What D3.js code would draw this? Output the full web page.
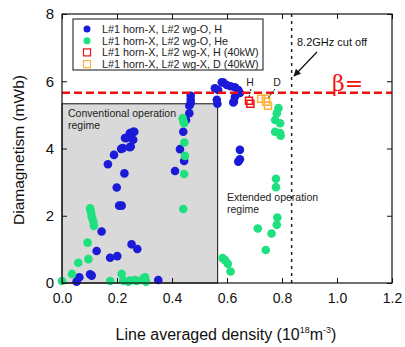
<!DOCTYPE html>
<html>
<head>
<meta charset="utf-8">
<title>Diamagnetism</title>
<script src="https://cdn.jsdelivr.net/npm/d3@7"></script>
<style>
  body { margin: 0; background: #fff; }
  svg { font-family: "Liberation Sans", Arial, sans-serif; }
  .tick text { font-size: 14px; }
  .small { font-size: 10.5px; fill: #222; }
</style>
</head>
<body>
<div id="chart"></div>
<script>
// blue: L#2 wg-O, H  [density, diamagnetism]
var blueH = [
  [0.053,0.04],[0.063,0.17],[0.102,0.26],[0.108,0.22],[0.126,0.95],[0.144,1.53],
  [0.175,0.75],[0.201,0.80],[0.167,3.53],[0.189,3.81],[0.199,2.84],[0.208,2.30],
  [0.217,2.30],[0.227,3.26],[0.215,3.99],[0.221,4.01],[0.229,4.31],[0.235,4.31],
  [0.241,4.35],[0.247,4.46],[0.253,4.46],[0.259,4.50],[0.263,4.50],[0.247,4.04],
  [0.250,4.06],[0.259,4.26],[0.253,1.15],[0.274,1.01],[0.350,0.09],[0.411,3.33],
  [0.429,3.98],[0.444,3.63],[0.441,4.50],[0.451,4.85],[0.463,5.05],[0.463,5.27],
  [0.468,5.35],[0.468,5.45],[0.468,5.57],[0.565,5.33],[0.556,5.79],[0.568,5.74],
  [0.581,5.97],[0.587,5.96],[0.599,5.89],[0.613,5.85],[0.629,5.82],[0.641,5.74],
  [0.647,5.65],[0.629,5.54],[0.625,5.40],[0.563,5.45],[0.623,5.37],[0.647,3.96],
  [0.647,3.68],[0.641,3.61]
];
// green: L#2 wg-O, He
var greenHe = [
  [0.0,0.06],[0.036,0.27],[0.059,0.60],[0.096,0.71],[0.093,1.20],[0.102,2.22],
  [0.104,2.17],[0.106,2.08],[0.108,1.97],[0.110,1.93],[0.114,1.82],[0.116,1.70],
  [0.175,0.06],[0.217,0.27],[0.223,0.07],[0.241,0.04],[0.247,0.07],[0.265,0.09],
  [0.272,0.06],[0.296,0.14],[0.302,0.17],[0.305,0.04],[0.304,0.06],[0.439,4.90],
  [0.441,4.82],[0.444,4.75],[0.445,4.18],[0.447,3.78],[0.444,3.24],[0.441,2.20],
  [0.584,0.74],[0.593,0.68],[0.603,0.57],[0.613,0.34],[0.787,5.20],[0.781,5.05],
  [0.775,4.85],[0.793,4.75],[0.775,4.50],[0.793,4.46],[0.795,4.38],[0.778,3.10],
  [0.778,2.85],[0.783,1.95],[0.781,1.73],[0.712,1.62],[0.762,1.47],[0.741,0.98]
];
// squares: L#2 wg-X at 40kW
var redH40 = [[0.680,5.42],[0.685,5.33]];
var orangeD40 = [[0.724,5.48],[0.742,5.48],[0.749,5.27],[0.742,5.39]];

var xTicks = [0, 0.2, 0.4, 0.6, 0.8, 1.0, 1.2];
var yTicks = [0, 2, 4, 6, 8];
var legendLabels = [
  "L#1 horn-X, L#2 wg-O, H",
  "L#1 horn-X, L#2 wg-O, He",
  "L#1 horn-X, L#2 wg-X, H (40kW)",
  "L#1 horn-X, L#2 wg-X, D (40kW)"
];
var betaLevel = 5.66;
var cutoff = 0.835;
var convBox = { x: 0.566, y: 5.33 };

var blue = "#1a1ad8", green = "#1fe07f", red = "#f01010", orange = "#ffb23a";

var W = 405, H = 347;
var svg = d3.select("#chart").append("svg").attr("width", W).attr("height", H);

var x = d3.scaleLinear().domain([0, 1.2]).range([62, 392]);
var y = d3.scaleLinear().domain([0, 8]).range([283, 14]);

// conventional regime box
svg.append("rect")
  .attr("x", x(0)).attr("y", y(convBox.y))
  .attr("width", x(convBox.x) - x(0)).attr("height", y(0) - y(convBox.y))
  .attr("fill", "#d9d9d9").attr("stroke", "#111").attr("stroke-width", 1);

svg.append("text").attr("class", "small").attr("x", 68).attr("y", 117).text("Conventional operation");
svg.append("text").attr("class", "small").attr("x", 68).attr("y", 129).text("regime");
svg.append("text").attr("class", "small").attr("x", 227).attr("y", 201).text("Extended operation");
svg.append("text").attr("class", "small").attr("x", 227).attr("y", 213).text("regime");

// cut-off line
svg.append("line")
  .attr("x1", x(cutoff)).attr("x2", x(cutoff)).attr("y1", y(8)).attr("y2", y(0))
  .attr("stroke", "#222").attr("stroke-width", 1.5).attr("stroke-dasharray", "3,4");

// points
svg.append("g").selectAll("circle").data(blueH).enter().append("circle")
  .attr("cx", function(d) { return x(d[0]); })
  .attr("cy", function(d) { return y(d[1]); })
  .attr("r", 4.3).attr("fill", blue);
svg.append("g").selectAll("circle").data(greenHe).enter().append("circle")
  .attr("cx", function(d) { return x(d[0]); })
  .attr("cy", function(d) { return y(d[1]); })
  .attr("r", 4.3).attr("fill", green);
svg.append("g").selectAll("rect").data(redH40).enter().append("rect")
  .attr("x", function(d) { return x(d[0]) - 3.5; })
  .attr("y", function(d) { return y(d[1]) - 3.5; })
  .attr("width", 7).attr("height", 7)
  .attr("fill", "none").attr("stroke", red).attr("stroke-width", 1.5);
svg.append("g").selectAll("rect").data(orangeD40).enter().append("rect")
  .attr("x", function(d) { return x(d[0]) - 3.5; })
  .attr("y", function(d) { return y(d[1]) - 3.5; })
  .attr("width", 7).attr("height", 7)
  .attr("fill", "none").attr("stroke", orange).attr("stroke-width", 1.5);

// beta line
svg.append("line")
  .attr("x1", x(0)).attr("x2", x(1.2)).attr("y1", y(betaLevel)).attr("y2", y(betaLevel))
  .attr("stroke", red).attr("stroke-width", 2.5).attr("stroke-dasharray", "8,4");
svg.append("text").attr("x", 332).attr("y", 91).attr("fill", red)
  .style("font-size", "22px").style("font-family", "DejaVu Serif, serif").text("β=");

// H / D labels
svg.append("text").attr("class", "small").attr("x", 250).attr("y", 86).attr("text-anchor", "middle").text("H");
svg.append("text").attr("class", "small").attr("x", 277).attr("y", 86).attr("text-anchor", "middle").text("D");
svg.append("line").attr("x1", 251).attr("y1", 89).attr("x2", 249).attr("y2", 97)
  .attr("stroke", "#111").attr("stroke-width", 1).attr("stroke-dasharray", "2,1");
svg.append("line").attr("x1", 275).attr("y1", 89).attr("x2", 268).attr("y2", 98)
  .attr("stroke", "#111").attr("stroke-width", 1).attr("stroke-dasharray", "2,1");

// cut-off annotation
svg.append("defs").append("marker")
  .attr("id", "arr").attr("viewBox", "0 0 10 10").attr("refX", 9).attr("refY", 5)
  .attr("markerWidth", 6).attr("markerHeight", 6).attr("orient", "auto")
  .append("path").attr("d", "M0,0L10,5L0,10z").attr("fill", "#111");
svg.append("text").attr("x", 297).attr("y", 46).style("font-size", "11px").attr("fill", "#111").text("8.2GHz cut off");
svg.append("line").attr("x1", 317).attr("y1", 52).attr("x2", 294).attr("y2", 76)
  .attr("stroke", "#111").attr("stroke-width", 1.2).attr("marker-end", "url(#arr)");

// axes
function styleAxis(g) {
  g.select(".domain").remove();
  g.selectAll(".tick line").attr("stroke", "#111");
}
svg.append("g").attr("transform", "translate(0,283)")
  .call(d3.axisBottom(x).tickValues(xTicks).tickFormat(d3.format(".1f")).tickSize(-5).tickPadding(10))
  .call(styleAxis).selectAll("text").attr("fill", "#111");
svg.append("g").attr("transform", "translate(0,14)")
  .call(d3.axisTop(x).tickValues(xTicks).tickFormat("").tickSize(-5))
  .call(styleAxis);
svg.append("g").attr("transform", "translate(62,0)")
  .call(d3.axisLeft(y).tickValues(yTicks).tickFormat(d3.format("d")).tickSize(-5).tickPadding(8))
  .call(styleAxis).selectAll("text").attr("fill", "#111").style("font-size", "15px");
svg.append("g").attr("transform", "translate(392,0)")
  .call(d3.axisRight(y).tickValues(yTicks).tickFormat("").tickSize(-5))
  .call(styleAxis);

svg.append("rect").attr("x", 62).attr("y", 14).attr("width", 330).attr("height", 269)
  .attr("fill", "none").attr("stroke", "#111").attr("stroke-width", 1.2);

// legend
var lg = svg.append("g");
lg.append("rect").attr("x", 73).attr("y", 19).attr("width", 190).attr("height", 51)
  .attr("fill", "#fff").attr("stroke", "#111").attr("stroke-width", 1);
var lrows = lg.selectAll(".legend").data(legendLabels).enter().append("g")
  .attr("transform", function(d, i) { return "translate(87," + (29 + i * 11.7) + ")"; });
lrows.each(function(d, i) {
  var g = d3.select(this);
  if (i < 2) {
    g.append("circle").attr("r", 3.5).attr("fill", i === 0 ? blue : green);
  } else {
    g.append("rect").attr("x", -3.5).attr("y", -3.5).attr("width", 7).attr("height", 7)
      .attr("fill", "none").attr("stroke", i === 2 ? red : orange).attr("stroke-width", 1.2);
  }
  g.append("text").attr("class", "small").attr("x", 15).attr("y", 4).style("font-size", "10.8px").text(d);
});

// axis titles
svg.append("text").attr("transform", "translate(24,150) rotate(-90)")
  .attr("text-anchor", "middle").style("font-size", "15.5px").attr("fill", "#111")
  .text("Diamagnetism (mWb)");
var xt = svg.append("text").attr("x", 226).attr("y", 340).attr("text-anchor", "middle")
  .style("font-size", "16px").attr("fill", "#111");
xt.append("tspan").text("Line averaged density (10");
xt.append("tspan").attr("dy", -7).style("font-size", "9px").text("18");
xt.append("tspan").attr("dy", 7).text("m");
xt.append("tspan").attr("dy", -7).style("font-size", "9px").text("-3");
xt.append("tspan").attr("dy", 7).text(")");
</script>
</body>
</html>
